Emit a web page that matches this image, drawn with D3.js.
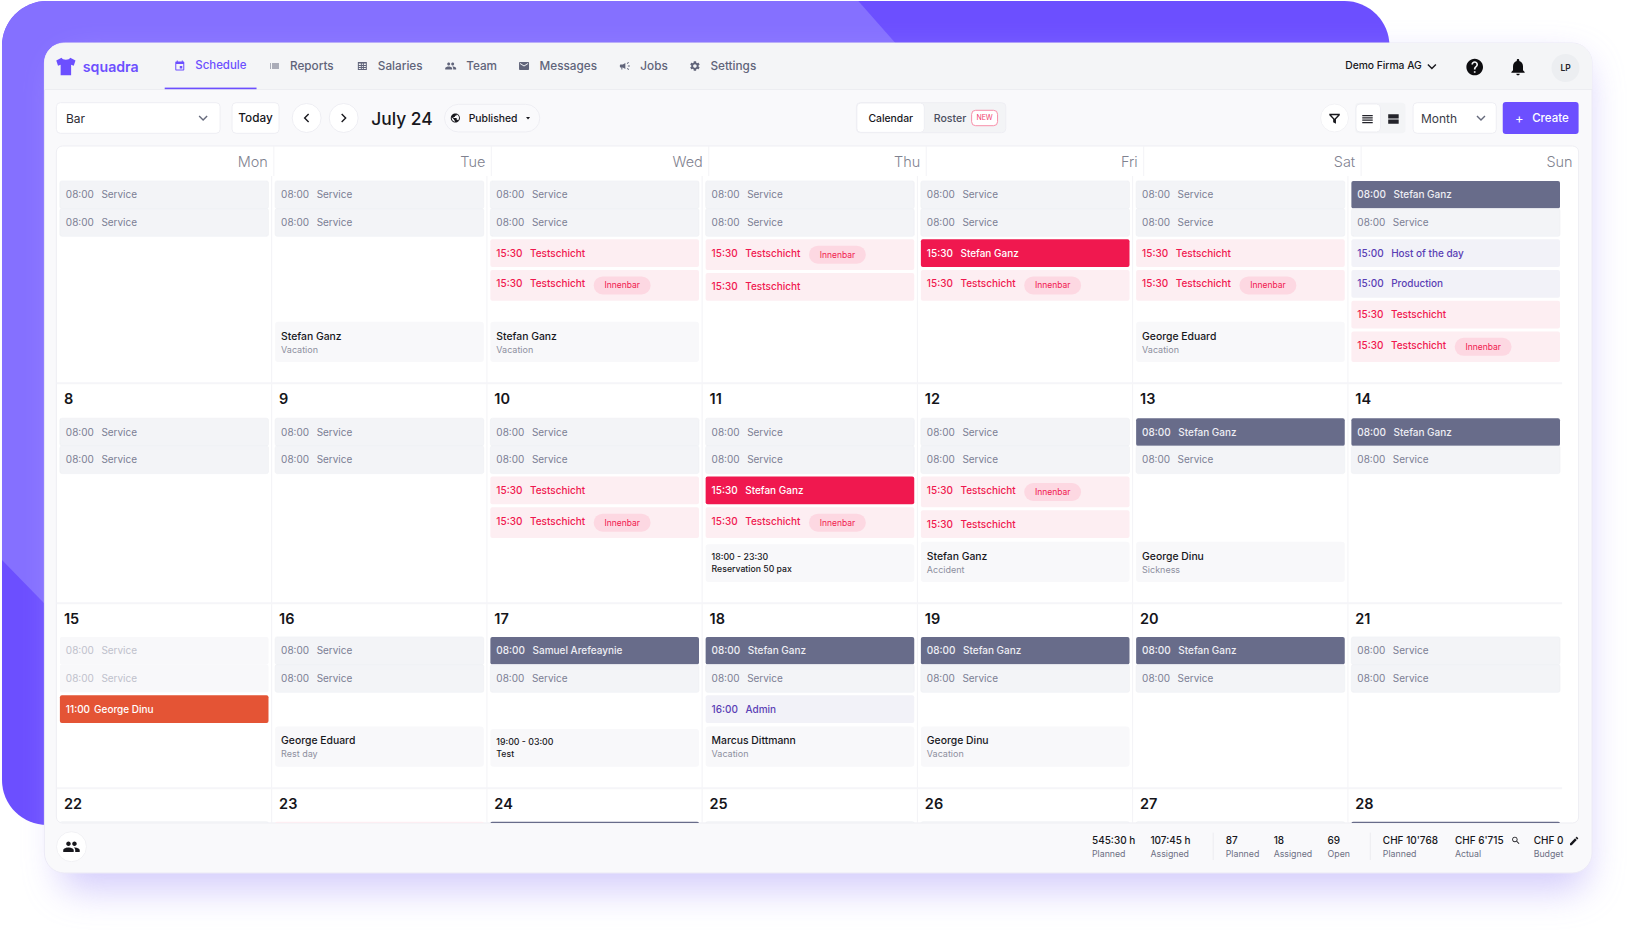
<!DOCTYPE html>
<html>
<head>
<meta charset="utf-8">
<title>squadra schedule</title>
<script src="https://d3js.org/d3.v7.min.js"></script>
<style>
    body { margin: 0; background: #fff; }
    svg { display: block; font-family: Inter, "Noto Sans", sans-serif; }
</style>
</head>
<body>
<div id="chart-area"></div>
<script>
// ---- Data ----
var weekDays = ["Mon", "Tue", "Wed", "Thu", "Fri", "Sat", "Sun"]
var weekNumbers = [0, 1, 2, 3]
var dateLabels = [
    [],
    [8, 9, 10, 11, 12, 13, 14],
    [15, 16, 17, 18, 19, 20, 21],
    [22, 23, 24, 25, 26, 27, 28]
]

var navLabels = ["Schedule", "Reports", "Salaries", "Team", "Messages", "Jobs", "Settings"]
var footerValues = ["545:30 h", "107:45 h", "87", "18", "69", "CHF 10'768", "CHF 6'715", "CHF 0"]
var footerLabels = ["Planned", "Assigned", "Planned", "Assigned", "Open", "Planned", "Actual", "Budget"]

function shift(time, label, kind, tag) {
    return {time: time, label: label, kind: kind, tag: tag}
}
var sv = shift("08:00", "Service", "open")
var gone = shift("08:00", "Service", "faded")
var tt = shift("15:30", "Testschicht", "test")
var tb = shift("15:30", "Testschicht", "test", "Innenbar")
var stefan = shift("08:00", "Stefan Ganz", "assigned")
var red = shift("15:30", "Stefan Ganz", "filled")

var shiftsWeek0 = [
    [sv, sv],
    [sv, sv],
    [sv, sv, tt, tb],
    [sv, sv, tb, tt],
    [sv, sv, red, tb],
    [sv, sv, tt, tb],
    [stefan, sv, shift("15:00", "Host of the day", "info"), shift("15:00", "Production", "info"), tt, tb]
]
var shiftsWeek1 = [
    [sv, sv],
    [sv, sv],
    [sv, sv, tt, tb],
    [sv, sv, red, tb],
    [sv, sv, tb, tt],
    [stefan, sv],
    [stefan, sv]
]
var shiftsWeek2 = [
    [gone, gone, shift("11:00", "George Dinu", "absent")],
    [sv, sv],
    [shift("08:00", "Samuel Arefeaynie", "assigned"), sv],
    [stefan, sv, shift("16:00", "Admin", "info")],
    [stefan, sv],
    [stefan, sv],
    [sv, sv]
]
// only the top edge of these shows above the footer
var shiftsWeek3 = [[sv], [tt], [stefan], [sv], [sv], [sv], [stefan]]
var shiftWeeks = [shiftsWeek0, shiftsWeek1, shiftsWeek2, shiftsWeek3]

var notes = [
    {week: 0, day: "Tue", name: "Stefan  Ganz", sub: "Vacation"},
    {week: 0, day: "Wed", name: "Stefan  Ganz", sub: "Vacation"},
    {week: 0, day: "Sat", name: "George  Eduard", sub: "Vacation"},
    {week: 1, day: "Thu", time: "18:00 - 23:30", sub: "Reservation 50 pax"},
    {week: 1, day: "Fri", name: "Stefan  Ganz", sub: "Accident"},
    {week: 1, day: "Sat", name: "George  Dinu", sub: "Sickness"},
    {week: 2, day: "Tue", name: "George  Eduard", sub: "Rest day"},
    {week: 2, day: "Wed", time: "19:00 - 03:00", sub: "Test"},
    {week: 2, day: "Thu", name: "Marcus  Dittmann", sub: "Vacation"},
    {week: 2, day: "Fri", name: "George  Dinu", sub: "Vacation"}
]

// ---- Layout and styles ----
var width = 1636, height = 941
var card = {left: 56.5, right: 1581.5, top: 146, bottom: 823}
var purple = "#6c4fff"

var kindStyle = {
    open:     {fill: "#f3f4f7", time: "#7b7e94", label: "#7b7e94"},
    faded:    {fill: "#f8f8fa", time: "#bfc1cc", label: "#bfc1cc"},
    assigned: {fill: "#686c8a", time: "#eeeef4", label: "#eeeef4"},
    test:     {fill: "#fdeef2", time: "#f0184f", label: "#f0184f"},
    filled:   {fill: "#f0184f", time: "#ffffff", label: "#ffffff"},
    info:     {fill: "#f2f2f8", time: "#5a3fb5", label: "#5a3fb5"},
    absent:   {fill: "#e45435", time: "#ffffff", label: "#ffffff"}
}

var headerX = d3.scaleBand().domain(weekDays).range([card.left, card.right])
var dayX = d3.scaleBand().domain(weekDays).range([card.left, 1566])
var weekLine = d3.scaleOrdinal().domain(weekNumbers).range([176, 383.3, 603.3, 788.3])
var weekTop = d3.scaleOrdinal().domain(weekNumbers).range([180.9, 418.2, 636.9, 821.7])
var noteBottom = d3.scaleOrdinal().domain(weekNumbers).range([362, 582, 766.7, 960])

var navTextX = d3.scaleOrdinal().domain(navLabels).range([195.6, 290.5, 378.5, 467, 540.5, 641.5, 711.7])
var footerX = d3.scaleOrdinal().domain(d3.range(8)).range([1094, 1152.6, 1228, 1276, 1330, 1385.4, 1457.6, 1536.5])

var iconPaths = {
    event: "M17 12h-5v5h5v-5zM16 1v2H8V1H6v2H5c-1.11 0-1.99.9-1.99 2L3 19c0 1.1.89 2 2 2h14c1.1 0 2-.9 2-2V5c0-1.1-.9-2-2-2h-1V1h-2zm3 18H5V8h14v11z",
    list: "M3 13h2v-2H3v2zm0 4h2v-2H3v2zm0-8h2V7H3v2zm4 4h14v-2H7v2zm0 4h14v-2H7v2zM7 7v2h14V7H7z",
    table: "M3 4h18v16H3zM5 7v3h4V7zm6 0v3h2V7zm4 0v3h4V7zM5 12v2h4v-2zm6 0v2h2v-2zm4 0v2h4v-2zM5 16v2h4v-2zm6 0v2h2v-2zm4 0v2h4v-2z",
    people: "M16 11c1.66 0 2.99-1.34 2.99-3S17.66 5 16 5c-1.66 0-3 1.34-3 3s1.34 3 3 3zm-8 0c1.66 0 2.99-1.34 2.99-3S9.66 5 8 5C6.34 5 5 6.34 5 8s1.34 3 3 3zm0 2c-2.33 0-7 1.17-7 3.5V19h14v-2.5c0-2.33-4.67-3.5-7-3.5zm8 0c-.29 0-.62.02-.97.05 1.16.84 1.97 1.97 1.97 3.45V19h6v-2.5c0-2.33-4.67-3.5-7-3.5z",
    email: "M20 4H4c-1.1 0-1.99.9-1.99 2L2 18c0 1.1.9 2 2 2h16c1.1 0 2-.9 2-2V6c0-1.1-.9-2-2-2zm0 4l-8 5-8-5V6l8 5 8-5v2z",
    campaign: "M18 11v2h4v-2h-4zm-2 6.61c.96.71 2.21 1.65 3.2 2.39.4-.53.8-1.07 1.2-1.6-.99-.74-2.24-1.68-3.2-2.4-.4.54-.8 1.08-1.2 1.61zM20.4 5.6c-.4-.53-.8-1.07-1.2-1.6-.99.74-2.24 1.68-3.2 2.4.4.53.8 1.07 1.2 1.6.96-.72 2.21-1.65 3.2-2.4zM4 9c-1.1 0-2 .9-2 2v2c0 1.1.9 2 2 2h1v4h2v-4h1l5 3V6L8 9H4z",
    settings: "M19.14 12.94c.04-.3.06-.61.06-.94 0-.32-.02-.64-.07-.94l2.03-1.58c.18-.14.23-.41.12-.61l-1.92-3.32c-.12-.22-.37-.29-.59-.22l-2.39.96c-.5-.38-1.03-.7-1.62-.94l-.36-2.54c-.04-.24-.24-.41-.48-.41h-3.84c-.24 0-.43.17-.47.41l-.36 2.54c-.59.24-1.13.57-1.62.94l-2.39-.96c-.22-.08-.47 0-.59.22L2.74 8.87c-.12.21-.08.47.12.61l2.03 1.58c-.05.3-.09.63-.09.94s.02.64.07.94l-2.03 1.58c-.18.14-.23.41-.12.61l1.92 3.32c.12.22.37.29.59.22l2.39-.96c.5.38 1.03.7 1.62.94l.36 2.54c.05.24.24.41.48.41h3.84c.24 0 .44-.17.47-.41l.36-2.54c.59-.24 1.13-.56 1.62-.94l2.39.96c.22.08.47 0 .59-.22l1.92-3.32c.12-.22.07-.47-.12-.61l-2.01-1.58zM12 15.6c-1.98 0-3.6-1.62-3.6-3.6s1.62-3.6 3.6-3.6 3.6 1.62 3.6 3.6-1.62 3.6-3.6 3.6z",
    help: "M12 2C6.48 2 2 6.48 2 12s4.48 10 10 10 10-4.48 10-10S17.52 2 12 2zm1 17h-2v-2h2v2zm2.07-7.75l-.9.92C13.45 12.9 13 13.5 13 15h-2v-.5c0-1.1.45-2.1 1.17-2.83l1.24-1.26c.37-.36.59-.86.59-1.41 0-1.1-.9-2-2-2s-2 .9-2 2H8c0-2.21 1.79-4 4-4s4 1.79 4 4c0 .88-.36 1.68-.93 2.25z",
    bell: "M12 22c1.1 0 2-.9 2-2h-4c0 1.1.89 2 2 2zm6-6v-5c0-3.07-1.64-5.64-4.5-6.32V4c0-.83-.67-1.5-1.5-1.5s-1.5.67-1.5 1.5v.68C7.63 5.36 6 7.92 6 11v5l-2 2v1h16v-1l-2-2z",
    globe: "M12 2C6.48 2 2 6.48 2 12s4.48 10 10 10 10-4.48 10-10S17.52 2 12 2zm-1 17.93c-3.95-.49-7-3.85-7-7.93 0-.62.08-1.21.21-1.79L9 15v1c0 1.1.9 2 2 2v1.93zm6.9-2.54c-.26-.81-1-1.39-1.9-1.39h-1v-3c0-.55-.45-1-1-1H8v-2h2c.55 0 1-.45 1-1V7h2c1.1 0 2-.9 2-2v-.41c2.93 1.19 5 4.06 5 7.41 0 2.08-.8 3.97-2.1 5.39z",
    search: "M15.5 14h-.79l-.28-.27C15.41 12.59 16 11.11 16 9.5 16 5.91 13.09 3 9.5 3S3 5.91 3 9.5 5.91 16 9.5 16c1.61 0 3.09-.59 4.23-1.57l.27.28v.79l5 4.99L20.49 19l-4.99-5zm-6 0C7.01 14 5 11.99 5 9.5S7.01 5 9.5 5 14 7.01 14 9.5 11.99 14 9.5 14z",
    edit: "M3 17.25V21h3.75L17.81 9.94l-3.75-3.75L3 17.25zM20.71 7.04c.39-.39.39-1.02 0-1.41l-2.34-2.34c-.39-.39-1.02-.39-1.41 0l-1.83 1.83 3.75 3.75 1.83-1.83z",
    filter: "M3 4h18v2.4l-6.6 7V21l-4.8-2.4v-5.2L3 6.4zM6.4 6.4l5.6 6 5.6-6z",
    rows: "M3 5h18v2.2H3zM3 9h18v2.2H3zM3 13h18v2.2H3zM3 17h18v2.2H3z",
    blocks: "M3 4h18v7H3zM3 13h18v7H3z",
    shirt: "M7 2 L1 5 L3 11 L6 10 V22 H18 V10 L21 11 L23 5 L17 2 C16 5 8 5 7 2Z"
}
var navIcons = ["event", "list", "table", "people", "email", "campaign", "settings"]

// ---- Canvas ----
// viewBox pulls the measured x positions in by 0.2%, they ran slightly wide
var svg = d3.select("#chart-area")
    .append("svg")
        .attr("width", width)
        .attr("height", height)
        .attr("viewBox", "0 0 1639 " + height)
        .attr("preserveAspectRatio", "none")

var defs = svg.append("defs")
defs.append("filter").attr("id", "soft")
    .attr("x", "-10%").attr("y", "-10%").attr("width", "120%").attr("height", "125%")
    .append("feGaussianBlur").attr("stdDeviation", 18)
defs.append("clipPath").attr("id", "bg-clip")
    .append("rect")
        .attr("x", 2).attr("y", 1)
        .attr("width", 1390).attr("height", 824)
        .attr("rx", 45)
defs.append("clipPath").attr("id", "card-clip")
    .append("rect")
        .attr("x", card.left).attr("y", card.top)
        .attr("width", card.right - card.left).attr("height", card.bottom - card.top)
        .attr("rx", 6)

function addRect(parent, x, y, w, h, fill, rx, stroke) {
    return parent.append("rect")
        .attr("x", x).attr("y", y)
        .attr("width", w).attr("height", h)
        .attr("rx", rx || 0)
        .attr("fill", fill)
        .attr("stroke", stroke || "none")
}

function addText(parent, x, y, str, size, color, weight, anchor) {
    return parent.append("text")
        .attr("x", x).attr("y", y)
        .attr("dominant-baseline", "central")
        .attr("text-anchor", anchor || "start")
        .attr("font-size", size)
        .attr("font-weight", weight || 400)
        .attr("fill", color)
        .text(str)
}

function addIcon(parent, name, cx, cy, size, color) {
    var k = size / 24
    return parent.append("path")
        .attr("d", iconPaths[name])
        .attr("fill", color)
        .attr("fill-rule", "evenodd")
        .attr("transform", "translate(" + (cx - size / 2) + "," + (cy - size / 2) + ") scale(" + k + ")")
}

function addChevron(parent, cx, cy, dir, color, size) {
    var s = size || 4
    var d = dir == "down" ? [[-s, -s / 2], [0, s / 2], [s, -s / 2]]
          : dir == "left" ? [[s / 2, -s], [-s / 2, 0], [s / 2, s]]
          : [[-s / 2, -s], [s / 2, 0], [-s / 2, s]]
    return parent.append("path")
        .attr("d", d3.line()(d))
        .attr("transform", "translate(" + cx + "," + cy + ")")
        .attr("fill", "none")
        .attr("stroke", color)
        .attr("stroke-width", 1.4)
}

// ---- Purple backdrop and panel ----
var bg = svg.append("g").attr("clip-path", "url(#bg-clip)")
addRect(bg, 0, 0, 1639, height, purple)
bg.append("polygon")
    .attr("points", "0,0 859,0 897,43 897,400 44,603 0,558")
    .attr("fill", "#8570ff")

addRect(svg, 60, 60, 1530, 830, "#b9adfa", 20)
    .attr("filter", "url(#soft)")
    .attr("opacity", 0.62)

addRect(svg, 44.5, 43, 1550.5, 830, "#f9f9fb", 20, "#eceaf6")
svg.append("path")
    .attr("d", "M44.5 89.5V63a20 20 0 0 1 20-20H1575a20 20 0 0 1 20 20V89.5Z")
    .attr("fill", "#f4f5f7")
    .attr("stroke", "none")
svg.append("line")
    .attr("x1", 44.5).attr("x2", 1595)
    .attr("y1", 89.5).attr("y2", 89.5)
    .attr("stroke", "#ecedf1")

// ---- Top navigation ----
var nav = svg.append("g")
addIcon(nav, "shirt", 66, 66.5, 21, purple)
addText(nav, 83, 66.5, "squadra", 14.2, purple, 600)

navLabels.forEach(function(label, i) {
    var active = i == 0
    var color = active ? purple : "#60647a"
    addText(nav, navTextX(label), active ? 65 : 66, label, active ? 11.5 : 11.8, color, 500)
    addIcon(nav, navIcons[i], navTextX(label) - 15.5, 66, 12, color)
})
addRect(nav, 165, 87.6, 92, 1.6, purple)

addText(nav, 1347.7, 65.3, "Demo Firma AG", 10.3, "#17171c", 500)
addChevron(nav, 1434.5, 66.5, "down", "#17171c", 4)
addIcon(nav, "help", 1477.4, 67, 20, "#0d0d10")
addIcon(nav, "bell", 1520.8, 67, 20, "#0d0d10")
nav.append("circle")
    .attr("cx", 1568.4).attr("cy", 68).attr("r", 14)
    .attr("fill", "#eceef1")
addText(nav, 1568.4, 68, "LP", 8.5, "#23232a", 600, "middle")

// ---- Toolbar ----
var bar = svg.append("g")
addRect(bar, 56.5, 102.7, 164, 30.6, "#fff", 4, "#eeeef3")
addText(bar, 66, 118, "Bar", 12, "#2b2b33")
addChevron(bar, 203.5, 118, "down", "#666a7c", 4)

addRect(bar, 232.5, 102.7, 47, 30.6, "#fff", 4, "#eeeef3")
addText(bar, 256, 118, "Today", 11.8, "#17171c", 500, "middle")

bar.selectAll("circle.nav-step")
    .data([307.2, 344.3])
    .enter().append("circle")
        .attr("class", "nav-step")
        .attr("cx", function(d) { return d })
        .attr("cy", 118)
        .attr("r", 14.5)
        .attr("fill", "#fff")
        .attr("stroke", "#eeeef3")
addChevron(bar, 307.2, 118, "left", "#17171c", 4)
addChevron(bar, 344.3, 118, "right", "#17171c", 4)

addText(bar, 372, 118, "July 24", 17.4, "#17171c", 500)

addRect(bar, 445.3, 104.3, 95.5, 27.7, "#fafafc", 14, "#eeeef3")
addIcon(bar, "globe", 456.2, 118, 11, "#17171c")
addText(bar, 469.5, 118, "Published", 10.4, "#17171c", 500)
bar.append("path")
    .attr("d", "M527 117h4l-2 2.4z")
    .attr("fill", "#17171c")

addRect(bar, 858, 102.7, 149.6, 30, "#f3f4f6", 4, "#eeeef3")
addRect(bar, 858.4, 103, 67.6, 29.4, "#fff", 4, "#eeeef3")
addText(bar, 892.4, 118.5, "Calendar", 10.4, "#17171c", 500, "middle")
addText(bar, 935.4, 118, "Roster", 10.6, "#4c4f5f", 500)
addRect(bar, 973.4, 110.3, 26, 15.4, "#fff", 4, "#f78fa9")
addText(bar, 986.4, 117.8, "NEW", 7, "#f0426f", 400, "middle")

bar.append("circle")
    .attr("cx", 1337).attr("cy", 118).attr("r", 14)
    .attr("fill", "#fff").attr("stroke", "#f2f2f5")
addIcon(bar, "filter", 1337, 118.5, 14, "#17171c")

addRect(bar, 1357.7, 102.7, 50.3, 30.6, "#f3f4f6", 4)
addRect(bar, 1358.5, 104, 24.5, 28, "#fff", 4, "#eeeef3")
addIcon(bar, "rows", 1370, 119, 14, "#23232a")
addIcon(bar, "blocks", 1396, 119, 14, "#23232a")

addRect(bar, 1415.7, 102.7, 83.3, 30.6, "#fff", 4, "#eeeef3")
addText(bar, 1423.6, 118, "Month", 12, "#3a3c47")
addChevron(bar, 1483.7, 118, "down", "#666a7c", 4)

addRect(bar, 1505.5, 102, 76, 32, purple, 3)
addText(bar, 1522, 117.5, "+", 13, "#fff", 400, "middle")
addText(bar, 1535, 118, "Create", 11.5, "#fff", 500)

// ---- Calendar card ----
addRect(svg, card.left, card.top, card.right - card.left, card.bottom - card.top, "#fff", 6, "#eeeef3")
var cal = svg.append("g").attr("clip-path", "url(#card-clip)")

// Day names have their own (wider) columns
cal.selectAll("line.head")
    .data(weekDays.slice(1))
    .enter().append("line")
        .attr("class", "head")
        .attr("x1", function(d) { return headerX(d) })
        .attr("x2", function(d) { return headerX(d) })
        .attr("y1", card.top)
        .attr("y2", 176)
        .attr("stroke", "#f3f3f6")

cal.selectAll("text.head")
    .data(weekDays)
    .enter().append("text")
        .attr("class", "head")
        .attr("x", function(d) { return headerX(d) + headerX.bandwidth() - 6 })
        .attr("y", 162)
        .attr("dominant-baseline", "central")
        .attr("text-anchor", "end")
        .attr("font-size", 14.5)
        .attr("font-weight", 300)
        .attr("fill", "#7f828f")
        .text(function(d) { return d })

cal.selectAll("line.day")
    .data(weekDays.slice(1))
    .enter().append("line")
        .attr("class", "day")
        .attr("x1", function(d) { return dayX(d) })
        .attr("x2", function(d) { return dayX(d) })
        .attr("y1", 176)
        .attr("y2", card.bottom)
        .attr("stroke", "#f3f3f6")

cal.selectAll("line.week")
    .data(weekNumbers.slice(1))
    .enter().append("line")
        .attr("class", "week")
        .attr("x1", card.left)
        .attr("x2", 1565)
        .attr("y1", function(d) { return weekLine(d) })
        .attr("y2", function(d) { return weekLine(d) })
        .attr("stroke", "#f5f5f8")
        .attr("stroke-width", 2)

// Date numbers
dateLabels.forEach(function(dates, w) {
    cal.selectAll("text.date-" + w)
        .data(dates)
        .enter().append("text")
            .attr("class", "date-" + w)
            .attr("x", function(d, i) { return dayX(weekDays[i]) + 7.5 })
            .attr("y", weekLine(w) + 15.4)
            .attr("dominant-baseline", "central")
            .attr("font-size", 14.5)
            .attr("font-weight", 600)
            .attr("fill", "#15151a")
            .text(function(d) { return d })
})

// Stack the shifts of each day, open slots sit flush against each other
var shiftRows = []
var flush = ["open", "faded", "assigned"]
shiftWeeks.forEach(function(week, w) {
    week.forEach(function(dayShifts, i) {
        var top = weekTop(w)
        dayShifts.forEach(function(s, j) {
            var h = s.tag ? 30.7 : 27.7
            if (j > 0 && !(flush.includes(s.kind) && flush.includes(dayShifts[j - 1].kind))) top += 3
            shiftRows.push(Object.assign({week: w, day: weekDays[i], top: top, h: h}, s))
            top += h
        })
    })
})

var boxX = function(day) { return dayX(day) + 3.5 }
var boxWidth = 209

var shiftGroups = cal.selectAll("g.shift")
    .data(shiftRows)
    .enter().append("g")
        .attr("class", "shift")
        .attr("transform", function(d) { return "translate(" + boxX(d.day) + "," + d.top + ")" })

shiftGroups.append("rect")
    .attr("width", boxWidth)
    .attr("height", function(d) { return d.h })
    .attr("rx", 2)
    .attr("fill", function(d) { return kindStyle[d.kind].fill })
    .attr("stroke", function(d) { return d.kind == "open" ? "#eff0f3" : "none" })
    .attr("stroke-width", 0.6)

var shiftLabels = shiftGroups.filter(function(d) { return d.week < 3 })
    .append("text")
        .attr("x", 6)
        .attr("y", 13.8)
        .attr("dy", "0.36em")
        .attr("font-size", 10)
        .attr("font-weight", function(d) { return d.kind == "open" || d.kind == "faded" ? 400 : 500 })

shiftLabels.append("tspan")
    .attr("fill", function(d) { return kindStyle[d.kind].time })
    .text(function(d) { return d.time })

shiftLabels.append("tspan")
    .attr("dx", function(d) { return d.kind == "absent" ? 4 : 7.6 })
    .attr("fill", function(d) { return kindStyle[d.kind].label })
    .text(function(d) { return d.label })

var tagged = shiftGroups.filter(function(d) { return d.tag && d.week < 3 })
tagged.append("rect")
    .attr("x", 103.5)
    .attr("y", 6.4)
    .attr("width", 57)
    .attr("height", 18)
    .attr("rx", 9)
    .attr("fill", "#fdd8e2")
tagged.append("text")
    .attr("x", 132)
    .attr("y", 15.4)
    .attr("dominant-baseline", "central")
    .attr("text-anchor", "middle")
    .attr("font-size", 8.5)
    .attr("fill", "#f0184f")
    .text(function(d) { return d.tag })

// Notes under the shifts (absences, reservations)
var noteGroups = cal.selectAll("g.note")
    .data(notes)
    .enter().append("g")
        .attr("class", "note")
        .attr("transform", function(d) {
            return "translate(" + boxX(d.day) + "," + noteBottom(d.week) + ")"
        })

noteGroups.append("rect")
    .attr("y", function(d) { return d.time ? -37.7 : -40.3 })
    .attr("width", boxWidth)
    .attr("height", function(d) { return d.time ? 37.7 : 40.3 })
    .attr("rx", 3)
    .attr("fill", "#f8f8fa")

noteGroups.append("text")
    .attr("x", 6)
    .attr("y", function(d) { return d.time ? -25.7 : -26 })
    .attr("dominant-baseline", "central")
    .attr("font-size", function(d) { return d.time ? 8.8 : 10.4 })
    .attr("font-weight", 500)
    .attr("fill", "#17171c")
    .text(function(d) { return d.time || d.name })

noteGroups.append("text")
    .attr("x", 6)
    .attr("y", -12.8)
    .attr("dominant-baseline", "central")
    .attr("font-size", function(d) { return d.time ? 8.7 : 9 })
    .attr("font-weight", function(d) { return d.time ? 500 : 400 })
    .attr("fill", function(d) { return d.time ? "#17171c" : "#8d8f9e" })
    .text(function(d) { return d.sub })

// ---- Footer ----
var foot = svg.append("g")
foot.append("circle")
    .attr("cx", 71.6).attr("cy", 846.7).attr("r", 15)
    .attr("fill", "#fff").attr("stroke", "#f1f1f4")
addIcon(foot, "people", 71.6, 846.7, 18, "#17171c")

foot.selectAll("text.value")
    .data(footerValues)
    .enter().append("text")
        .attr("class", "value")
        .attr("x", function(d, i) { return footerX(i) })
        .attr("y", 840)
        .attr("dominant-baseline", "central")
        .attr("font-size", 10)
        .attr("font-weight", 500)
        .attr("fill", "#17171c")
        .text(function(d) { return d })

foot.selectAll("text.caption")
    .data(footerLabels)
    .enter().append("text")
        .attr("class", "caption")
        .attr("x", function(d, i) { return footerX(i) })
        .attr("y", 853.3)
        .attr("dominant-baseline", "central")
        .attr("font-size", 8.8)
        .attr("fill", "#6d7084")
        .text(function(d) { return d })

foot.selectAll("line.sep")
    .data([1215.4, 1372.8])
    .enter().append("line")
        .attr("class", "sep")
        .attr("x1", function(d) { return d })
        .attr("x2", function(d) { return d })
        .attr("y1", 832.7)
        .attr("y2", 860)
        .attr("stroke", "#ececf0")

addIcon(foot, "search", 1518.7, 840.5, 10, "#17171c")
addIcon(foot, "edit", 1577, 841, 11, "#17171c")
</script>
</body>
</html>
